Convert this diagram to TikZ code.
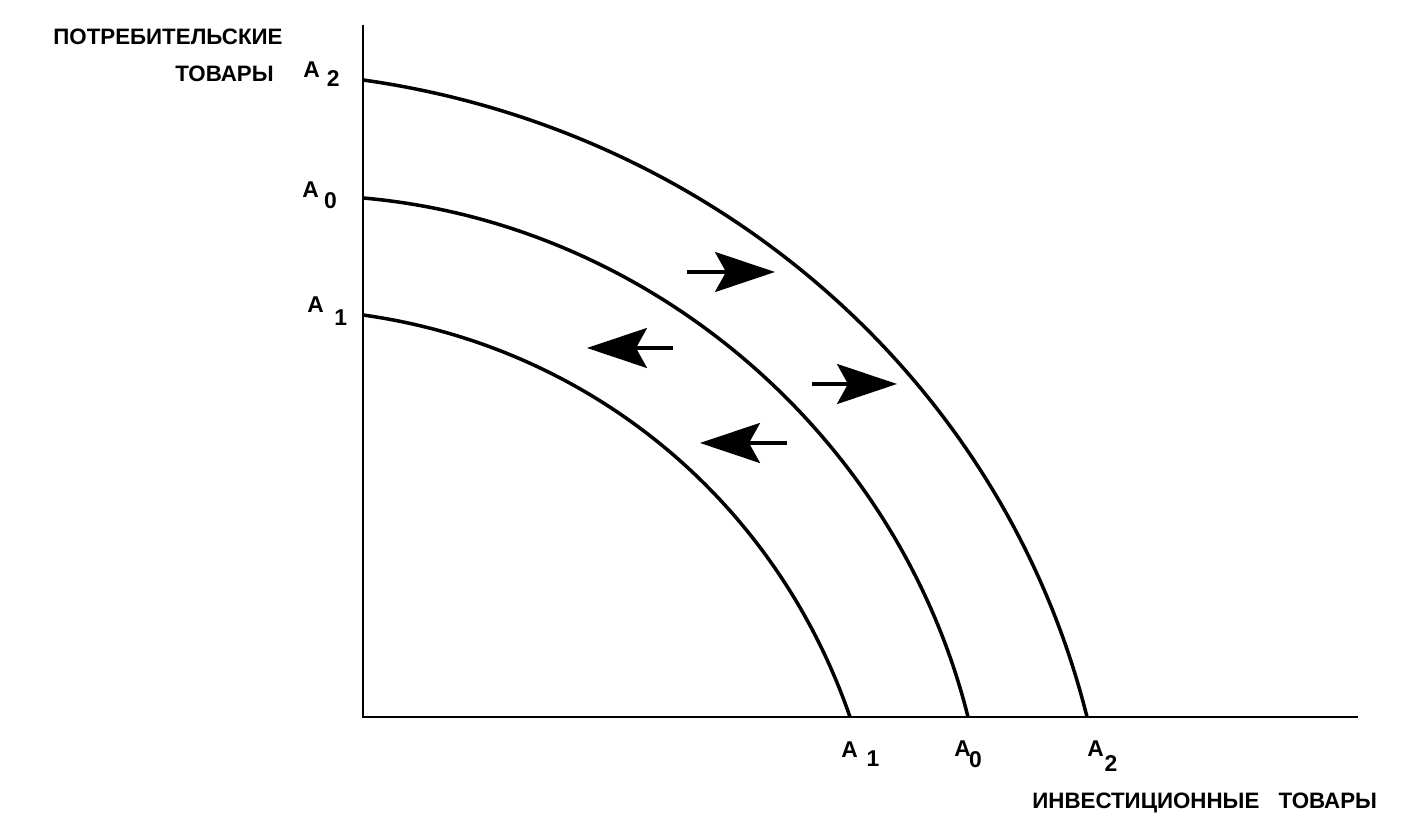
\documentclass[tikz,border=0pt]{standalone}
\usepackage{fontspec}
\setmainfont{Liberation Sans}
\usetikzlibrary{arrows.meta}
\tikzstyle{axis} = [line width=1.6pt]
\tikzstyle{curve} = [line width=2pt, looseness=0.93]
\tikzstyle{move} = [line width=2pt, -{Stealth[length=1.2cm, width=0.8cm, inset=0.22cm]}]
\tikzstyle{lbl} = [inner sep=0pt, font={\bfseries\fontsize{13}{15}\selectfont}]
\tikzstyle{title} = [inner sep=0pt, font={\bfseries\fontsize{12.7}{15}\selectfont}]
\newcommand{\apt}[3]{A\kern#2\raisebox{-#3}{#1}}

\begin{document}
\begin{tikzpicture}[x=0.02cm, y=0.02cm]
        \useasboundingbox (0,0) rectangle (1411,817);
        \coordinate (o) at (363,100);
        \coordinate (ytop) at (363,792);
        \coordinate (xend) at (1358,100);
        \coordinate (a2y) at (363,737);
        \coordinate (a0y) at (363,619);
        \coordinate (a1y) at (363,502);
        \coordinate (a2x) at (1087,100);
        \coordinate (a0x) at (968,100);
        \coordinate (a1x) at (850,100);
        \draw[axis] (ytop) -- (o) -- (xend);
        \draw[curve] (a2y) to[out=-8,in=104] (a2x);
        \draw[curve] (a0y) to[out=-5,in=104] (a0x);
        \draw[curve] (a1y) to[out=-8,in=109] (a1x);
        % labels
        \node[title, anchor=base west](cons) at (53,772){ПОТРЕБИТЕЛЬСКИЕ};
        \node[title, anchor=base east](consb) at (274,735){ТОВАРЫ};
        \node[title, anchor=base west](inv) at (1032,8){ИНВЕСТИЦИОННЫЕ\kern 11pt ТОВАРЫ};
        \node[lbl, anchor=base west](la2y) at (303,739){\apt{2}{4pt}{5pt}};
        \node[lbl, anchor=base west](la0y) at (302,619){\apt{0}{3pt}{6pt}};
        \node[lbl, anchor=base west](la1y) at (307,504){\apt{1}{6pt}{7pt}};
        \node[lbl, anchor=base west](la1x) at (841,59){\apt{1}{5pt}{5pt}};
        \node[lbl, anchor=base west](la0x) at (954,60){\apt{0}{-1pt}{6pt}};
        \node[lbl, anchor=base west](la2x) at (1087,60){\apt{2}{0.5pt}{8.5pt}};
        % shifts
        \coordinate (r1s) at (687,545);
        \coordinate (r1e) at (775,545);
        \coordinate (l1s) at (673,469);
        \coordinate (l1e) at (587,469);
        \coordinate (r2s) at (812,433);
        \coordinate (r2e) at (897,433);
        \coordinate (l2s) at (787,374);
        \coordinate (l2e) at (700,374);
        \draw[move] (r1s) -- (r1e);
        \draw[move] (l1s) -- (l1e);
        \draw[move] (r2s) -- (r2e);
        \draw[move] (l2s) -- (l2e);
      \end{tikzpicture}
\end{document}
